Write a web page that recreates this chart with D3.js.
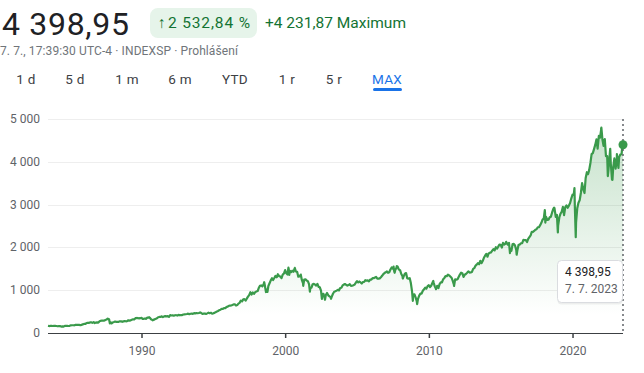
<!DOCTYPE html>
<html>
<head>
<meta charset="utf-8">
<script src="https://cdn.jsdelivr.net/npm/d3@7"></script>
<style>
  body { margin: 0; background: #fff; font-family: Roboto, "Noto Sans", sans-serif; }
  svg { display: block; }
</style>
</head>
<body>
<div id="chart"></div>
<script>
// S&P 500 monthly closes (first month of each array given by its start)
const closes1983to1989 = [
  168.1, 162.6, 164.4, 166.1, 163.6, 166.4, 164.9,
  163.4, 157.1, 159.2, 160.1, 150.6, 153.2, 150.7, 166.7, 166.1, 166.1, 163.6, 167.2,
  179.6, 181.2, 180.7, 179.8, 189.6, 191.9, 190.9, 188.6, 182.1, 189.8, 202.2, 211.3,
  211.8, 226.9, 238.9, 235.5, 247.4, 250.8, 236.1, 252.9, 231.3, 244.0, 249.2, 242.2,
  274.1, 284.2, 291.7, 288.4, 290.1, 304.0, 318.7, 329.8, 321.8, 251.8, 230.3, 247.1,
  257.1, 267.8, 258.9, 261.3, 262.2, 273.5, 272.0, 261.5, 272.0, 279.0, 273.7, 277.7,
  297.5, 288.9, 294.9, 309.6, 320.5, 318.0, 346.1, 351.5, 349.2, 340.4, 346.0, 353.4
];
const closes1990s = [
  329.1, 331.9, 339.9, 330.8, 361.2, 358.0, 356.2, 322.6, 306.1, 304.0, 322.2, 330.2,
  343.9, 367.1, 375.2, 375.3, 389.8, 371.2, 387.8, 395.4, 387.9, 392.5, 375.2, 417.1,
  408.8, 412.7, 403.7, 415.0, 415.4, 408.1, 424.2, 414.0, 417.8, 418.7, 431.4, 435.7,
  438.8, 443.4, 451.7, 440.2, 450.2, 450.5, 448.1, 463.6, 458.9, 467.8, 461.8, 466.5,
  481.6, 467.1, 445.8, 450.9, 456.5, 444.3, 458.3, 475.5, 462.7, 472.4, 453.7, 459.3,
  470.4, 487.4, 500.7, 514.7, 533.4, 544.8, 562.1, 561.9, 584.4, 581.5, 605.4, 615.9,
  636.0, 640.4, 645.5, 654.2, 669.1, 670.6, 640.0, 652.0, 687.3, 705.3, 757.0, 740.7,
  786.2, 790.8, 757.1, 801.3, 848.3, 885.1, 954.3, 899.5, 947.3, 914.6, 955.4, 970.4,
  980.3, 1049.3, 1101.8, 1111.8, 1090.8, 1133.8, 1120.7, 957.3, 1017.0, 1098.7, 1163.6, 1229.2,
  1279.6, 1238.3, 1286.4, 1335.2, 1301.8, 1372.7, 1328.7, 1320.4, 1282.7, 1362.9, 1388.9, 1469.3
];
const closes2000s = [
  1394.5, 1366.4, 1498.6, 1452.4, 1420.6, 1454.6, 1430.8, 1517.7, 1436.5, 1429.4, 1315.2, 1320.3,
  1366.0, 1239.9, 1160.3, 1249.5, 1255.8, 1224.4, 1211.2, 1133.6, 1040.9, 1059.8, 1139.5, 1148.1,
  1130.2, 1106.7, 1147.4, 1076.9, 1067.1, 989.8, 911.6, 916.1, 815.3, 885.8, 936.3, 879.8,
  855.7, 841.2, 848.2, 916.9, 963.6, 974.5, 990.3, 1008.0, 996.0, 1050.7, 1058.2, 1111.9,
  1131.1, 1144.9, 1126.2, 1107.3, 1120.7, 1140.8, 1101.7, 1104.2, 1114.6, 1130.2, 1173.8, 1211.9,
  1181.3, 1203.6, 1180.6, 1156.9, 1191.5, 1191.3, 1234.2, 1220.3, 1228.8, 1207.0, 1249.5, 1248.3,
  1280.1, 1280.7, 1294.9, 1310.6, 1270.1, 1270.2, 1276.7, 1303.8, 1335.9, 1377.9, 1400.6, 1418.3,
  1438.2, 1406.8, 1420.9, 1482.4, 1530.6, 1503.4, 1455.3, 1474.0, 1526.8, 1549.4, 1481.1, 1468.4,
  1378.6, 1330.6, 1322.7, 1385.6, 1400.4, 1280.0, 1267.4, 1282.8, 1166.4, 968.8, 896.2, 903.3,
  825.9, 735.1, 797.9, 872.8, 919.1, 919.3, 987.5, 1020.6, 1057.1, 1036.2, 1095.6, 1115.1
];
const closes2010s = [
  1073.9, 1104.5, 1169.4, 1186.7, 1089.4, 1030.7, 1101.6, 1049.3, 1141.2, 1183.3, 1180.6, 1257.6,
  1286.1, 1327.2, 1325.8, 1363.6, 1345.2, 1320.6, 1292.3, 1218.9, 1131.4, 1253.3, 1247.0, 1257.6,
  1312.4, 1365.7, 1408.5, 1397.9, 1310.3, 1362.2, 1379.3, 1406.6, 1440.7, 1412.2, 1416.2, 1426.2,
  1498.1, 1514.7, 1569.2, 1597.6, 1630.7, 1606.3, 1685.7, 1633.0, 1681.6, 1756.5, 1805.8, 1848.4,
  1782.6, 1859.5, 1872.3, 1884.0, 1923.6, 1960.2, 1930.7, 2003.4, 1972.3, 2018.1, 2067.6, 2058.9,
  1995.0, 2104.5, 2067.9, 2085.5, 2107.4, 2063.1, 2103.8, 1972.2, 1920.0, 2079.4, 2080.4, 2043.9,
  1940.2, 1932.2, 2059.7, 2065.3, 2097.0, 2098.9, 2173.6, 2171.0, 2168.3, 2126.2, 2198.8, 2238.8,
  2278.9, 2363.6, 2362.7, 2384.2, 2411.8, 2423.4, 2470.3, 2471.7, 2519.4, 2575.3, 2647.6, 2673.6,
  2823.8, 2713.8, 2640.9, 2648.1, 2705.3, 2718.4, 2816.3, 2901.5, 2914.0, 2711.7, 2760.2, 2506.9,
  2704.1, 2784.5, 2834.4, 2945.8, 2752.1, 2941.8, 2980.4, 2926.5, 2976.7, 3037.6, 3141.0, 3230.8
];
const closes2020s = [
  3225.5, 2954.2, 2584.6, 2912.4, 3044.3, 3100.3, 3271.1, 3500.3, 3363.0, 3270.0, 3621.6, 3756.1,
  3714.2, 3811.2, 3972.9, 4181.2, 4204.1, 4297.5, 4395.3, 4522.7, 4307.5, 4605.4, 4567.0, 4766.2,
  4515.6, 4373.9, 4530.4, 4131.9, 4132.2, 3785.4, 4130.3, 3955.0, 3585.6, 3872.0, 4080.1, 3839.5,
  4076.6, 3970.2, 4109.3, 4169.5, 4179.8, 4450.4
];
const closeBlocks = [
  { start: [1983, 5], closes: closes1983to1989 },
  { start: [1990, 0], closes: closes1990s },
  { start: [2000, 0], closes: closes2000s },
  { start: [2010, 0], closes: closes2010s },
  { start: [2020, 0], closes: closes2020s }
];

// highs and lows inside the months that show up as spikes
const swingDates = [
  "1987-08-25", "1987-10-19", "1987-12-04", "1990-07-16", "1990-10-11",
  "1998-07-17", "1998-10-08", "2000-03-24", "2000-04-14", "2000-09-01",
  "2001-04-04", "2001-09-21", "2002-07-23", "2002-10-09", "2003-03-11",
  "2007-07-19", "2007-08-15", "2007-10-09", "2008-03-10", "2008-11-20",
  "2009-03-09", "2010-04-23", "2010-07-02", "2011-10-03", "2015-05-21",
  "2015-08-25", "2016-02-11", "2018-01-26", "2018-02-08", "2018-09-20",
  "2018-12-24", "2020-02-19", "2020-03-23", "2022-01-03", "2022-06-16",
  "2022-08-16", "2022-10-12", "2023-02-02", "2023-03-13"
];
const swingValues = [
  336.8, 224.8, 223.9, 369.0, 295.5,
  1186.8, 959.4, 1527.5, 1356.6, 1520.8,
  1103.3, 965.8, 797.7, 776.8, 800.7,
  1553.1, 1406.7, 1565.2, 1273.4, 752.4,
  676.5, 1217.3, 1022.6, 1099.2, 2130.8,
  1867.6, 1829.1, 2872.9, 2581.0, 2930.8,
  2351.1, 3386.2, 2237.4, 4796.6, 3666.8,
  4305.2, 3577.0, 4179.8, 3855.8
];

const lastDate = "2023-07-07";
const lastClose = 4398.95;
const lastLabel = "4 398,95";
const lastDateLabel = "7. 7. 2023";

const yTicks = [0, 1000, 2000, 3000, 4000, 5000];
const yTickLabels = ["0", "1 000", "2 000", "3 000", "4 000", "5 000"];
const xTicks = [1990, 2000, 2010, 2020];

const rangeTabs = ["1 d", "5 d", "1 m", "6 m", "YTD", "1 r", "5 r", "MAX"];
const tabCenters = [26, 75, 127, 180, 235, 287, 334, 387];

document.addEventListener('DOMContentLoaded', function() {
    const parse = d3.timeParse("%Y-%m-%d");
    let series = [];
    closeBlocks.forEach(b => {
        b.closes.forEach((v, i) => {
            series.push({ date: new Date(b.start[0], b.start[1] + i + 1, 0), value: v });
        });
    });
    swingDates.forEach((d, i) => series.push({ date: parse(d), value: swingValues[i] }));
    series.push({ date: parse(lastDate), value: lastClose });
    series.sort((a, b) => a.date - b.date);

    drawChart(series, parse(lastDate));
});

function drawChart(series, endDate) {
    const width = 644, height = 373;
    const left = 48, right = 623, top = 119, bottom = 333;
    const green = "#3a9a4b";

    const svg = d3.select("#chart").append("svg")
        .attr("width", width)
        .attr("height", height)
        .style("font-family", "Roboto, sans-serif");

    // header (widths stretched a little to match the original font)
    svg.append("text").attr("x", 2).attr("y", 35)
        .attr("font-size", 32).attr("fill", "#202124")
        .attr("textLength", 127).attr("lengthAdjust", "spacing")
        .text(lastLabel);
    svg.append("rect").attr("x", 150).attr("y", 8).attr("width", 107).attr("height", 30)
        .attr("rx", 8).attr("fill", "#e6f4ea");
    svg.append("text").attr("x", 158).attr("y", 28)
        .attr("font-size", 15.5).attr("fill", "#137333").text("↑");
    svg.append("text").attr("x", 168).attr("y", 28)
        .attr("font-size", 15.5).attr("fill", "#137333")
        .attr("textLength", 82).attr("lengthAdjust", "spacing")
        .text("2 532,84 %");
    svg.append("text").attr("x", 265).attr("y", 28)
        .attr("font-size", 15.5).attr("fill", "#137333")
        .attr("textLength", 141).attr("lengthAdjust", "spacing")
        .text("+4 231,87 Maximum");
    svg.append("text").attr("x", 0).attr("y", 55)
        .attr("font-size", 12).attr("fill", "#70757a")
        .attr("textLength", 238).attr("lengthAdjust", "spacing")
        .text("7. 7., 17:39:30 UTC-4 · INDEXSP · Prohlášení");

    svg.selectAll(".tab")
        .data(rangeTabs)
        .enter().append("text")
        .attr("class", "tab")
        .attr("x", (d, i) => tabCenters[i])
        .attr("y", 84)
        .attr("text-anchor", "middle")
        .attr("font-size", 13.5)
        .attr("letter-spacing", 0.3)
        .attr("fill", d => d === "MAX" ? "#1a73e8" : "#3c4043")
        .text(d => d);
    svg.append("rect").attr("x", 373).attr("y", 88).attr("width", 29).attr("height", 3)
        .attr("rx", 1.5).attr("fill", "#1a73e8");

    const x = d3.scaleTime()
        .domain([series[0].date, endDate])
        .range([left, right]);

    const y = d3.scaleLinear()
        .domain([0, 5000])
        .range([bottom, top]);

    // grid
    svg.selectAll(".grid")
        .data(yTicks.slice(1))
        .enter().append("line")
        .attr("x1", left).attr("x2", right - 1)
        .attr("y1", d => Math.round(y(d)) + 0.5).attr("y2", d => Math.round(y(d)) + 0.5)
        .attr("stroke", "#eeeeee");

    svg.selectAll(".ylabel")
        .data(yTicks)
        .enter().append("text")
        .attr("x", 40)
        .attr("y", d => y(d) + 4)
        .attr("text-anchor", "end")
        .attr("font-size", 12)
        .attr("fill", "#5f6368")
        .text((d, i) => yTickLabels[i]);

    // area gradient
    const grad = svg.append("defs").append("linearGradient")
        .attr("id", "fade")
        .attr("gradientUnits", "userSpaceOnUse")
        .attr("x1", 0).attr("x2", 0).attr("y1", top).attr("y2", 315);
    grad.append("stop").attr("offset", 0).attr("stop-color", green).attr("stop-opacity", 0.3);
    grad.append("stop").attr("offset", 1).attr("stop-color", green).attr("stop-opacity", 0);

    svg.append("path")
        .datum(series)
        .attr("fill", "url(#fade)")
        .attr("d", d3.area().x(d => x(d.date)).y0(bottom).y1(d => y(d.value)));

    // x axis
    const xAxis = svg.append("g")
        .attr("transform", `translate(0,${bottom})`)
        .call(d3.axisBottom(x)
            .tickValues(xTicks.map(yr => new Date(yr, 0, 1)))
            .tickFormat(d3.timeFormat("%Y"))
            .tickSize(5)
            .tickPadding(8));
    xAxis.select(".domain").attr("stroke", "#3c4043").attr("d", `M${left},0.5H${right}`);
    xAxis.selectAll(".tick line").attr("stroke", "#3c4043").attr("stroke-width", 1.5);
    xAxis.selectAll(".tick text")
        .attr("font-family", "Roboto, sans-serif")
        .attr("font-size", 12)
        .attr("fill", "#5f6368");

    svg.append("path")
        .datum(series)
        .attr("fill", "none")
        .attr("stroke", green)
        .attr("stroke-width", 2.2)
        .attr("stroke-linejoin", "round")
        .attr("d", d3.line().x(d => x(d.date)).y(d => y(d.value)));

    // current point marker
    const ex = x(endDate);
    svg.append("line")
        .attr("x1", ex).attr("x2", ex).attr("y1", top).attr("y2", bottom)
        .attr("stroke", "#5f6368").attr("stroke-width", 1.5)
        .attr("stroke-dasharray", "2,3");
    svg.append("circle")
        .attr("cx", ex).attr("cy", y(lastClose)).attr("r", 4.5)
        .attr("fill", green);

    const tip = svg.append("g").attr("transform", `translate(${ex - 66},260)`);
    tip.append("rect").attr("x", 0.5).attr("y", 1.5).attr("width", 65).attr("height", 43)
        .attr("rx", 4).attr("fill", "#000").attr("opacity", 0.06);
    tip.append("rect").attr("x", 0.5).attr("y", 0.5).attr("width", 65).attr("height", 42)
        .attr("rx", 4).attr("fill", "#fff").attr("stroke", "#dadce0");
    tip.append("text").attr("x", 8).attr("y", 16)
        .attr("font-size", 12).attr("fill", "#202124").text(lastLabel);
    tip.append("text").attr("x", 8).attr("y", 33)
        .attr("font-size", 12).attr("fill", "#5f6368").text(lastDateLabel);
}
</script>
</body>
</html>
